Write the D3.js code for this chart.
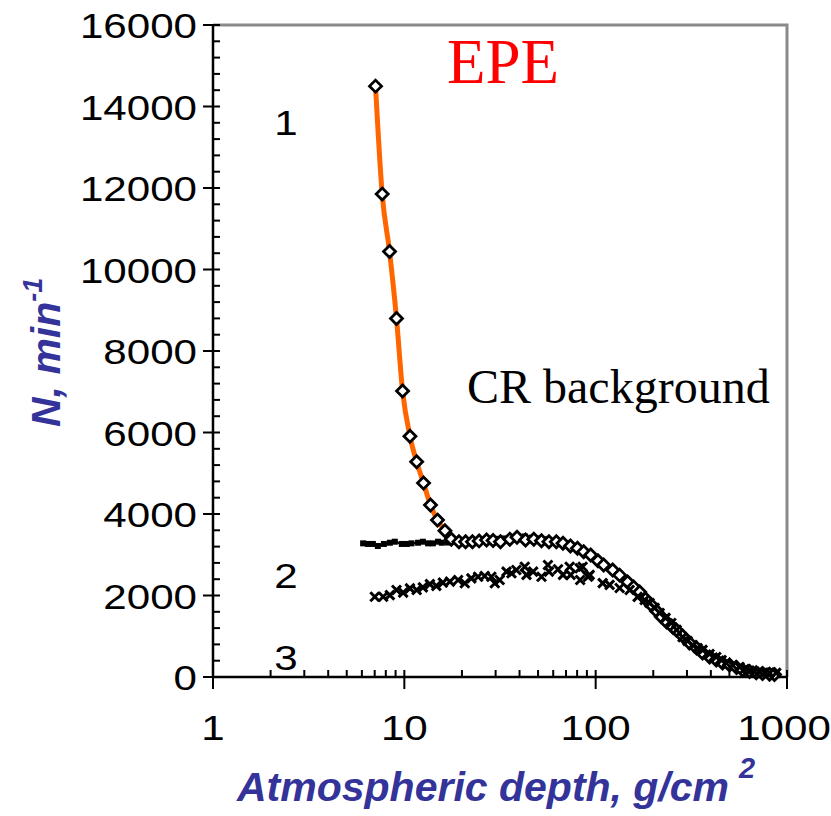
<!DOCTYPE html>
<html>
<head>
<meta charset="utf-8">
<script src="https://cdn.jsdelivr.net/npm/d3@7"></script>
<style>
  html, body { margin: 0; padding: 0; background: #fff; }
  svg { display: block; }
</style>
</head>
<body>
<div id="chart-container"></div>
<script>
// Data
// curve 1: EPE, open diamonds on orange line
const epeDepth = [7.07, 7.66, 8.37, 9.10, 9.79, 10.7, 11.6, 12.6, 13.7, 14.9, 16.3, 17.6,
  19.3, 20.9, 22.7, 24.6, 26.9, 29.1, 31.8, 35.6, 38.8, 43.0, 47.5, 52.1, 57.0, 62.3,
  67.5, 73.8, 80.3, 86.6, 94.2, 102.8, 110.1, 122.7, 133.4, 146.9, 157.9, 169.8, 182.4,
  195.4, 208.2, 220.3, 234.9, 249.4, 263.9, 284.7, 309.7, 336.9, 362.1, 393.8, 426.9,
  460.5, 500.9, 544.8, 585.7, 637.3, 690.6, 744.9, 810.4, 860];
const epeN = [14500, 11850, 10440, 8800, 7020, 5910, 5280, 4760, 4220, 3850, 3590, 3380,
  3320, 3320, 3320, 3340, 3360, 3350, 3320, 3380, 3430, 3360, 3380, 3345, 3320, 3320,
  3280, 3215, 3160, 3075, 2995, 2855, 2750, 2625, 2500, 2330, 2210, 2085, 1915,
  1765, 1620, 1480, 1350, 1250, 1155, 1005, 835, 710, 590, 490, 415,
  345, 295, 235, 170, 135, 105, 85, 70, 60];

// curve 2: CR background, small squares on black line
const bgDepth = [6.09, 6.45, 6.85, 7.27, 7.82, 8.40, 8.92, 9.70, 10.3, 10.9, 11.8, 12.5,
  13.3, 14.1, 15.0, 15.7, 16.9, 18.3, 20.0, 21.7, 23.6, 25.7, 28.0, 30.4, 33.1, 36.0,
  39.1, 42.6, 46.3, 50.4, 54.8, 59.6, 64.9, 70.6, 76.8, 83.5, 90.8, 98.8, 107.5, 116.9,
  127.2, 138.4, 150.5, 163.7, 178.1, 193.8, 210.8, 229.3, 249.4, 271.3, 295.1, 321.0,
  349.2, 379.8, 413.2, 449.4, 488.9, 531.8, 578.5, 629.5, 684.7, 744.9, 810.4, 881.5];
const bgN = [3280, 3265, 3265, 3215, 3265, 3295, 3320, 3265, 3265, 3280, 3295, 3320,
  3280, 3280, 3320, 3295, 3300, 3330, 3310, 3350, 3340, 3380, 3370, 3390, 3400, 3420,
  3460, 3450, 3420, 3400, 3380, 3340, 3300, 3260, 3200, 3120, 3040, 2930, 2800, 2680,
  2560, 2420, 2270, 2130, 1960, 1780, 1600, 1420, 1260, 1110, 960, 810,
  680, 560, 460, 380, 310, 250, 190, 150, 115, 95, 80, 70];

// curve 3: crosses, no line
const crDepth = [7.01, 7.75, 8.40, 9.10, 9.86, 10.7, 11.6, 12.5, 13.6, 14.7, 15.9, 17.3,
  19.1, 20.7, 22.4, 24.3, 26.3, 28.5, 29.7, 31.5, 34.2, 36.3, 38.5, 42.6, 43.5, 47.1,
  52.1, 56.3, 57.0, 63.6, 67.5, 73.1, 74.0, 82.5, 83.0, 85.5, 91.2, 93.1, 108.8, 118.3,
  133.4, 150.5, 165.7, 180.3, 191.4, 203.3, 215.9, 232.0, 248.5, 264.9, 284.7, 302.3,
  321.0, 340.9, 362.1, 393.8, 426.9, 455.0, 481.4, 519.4, 564.9, 600.0, 637.3, 676.7,
  718.6, 763.1, 810.4, 878.2];
const crN = [1970, 1970, 2010, 2135, 2070, 2175, 2135, 2200, 2280, 2235, 2315, 2340,
  2380, 2300, 2420, 2460, 2480, 2460, 2300, 2380, 2585, 2545, 2625, 2705, 2505, 2585,
  2460, 2750, 2585, 2645, 2505, 2705, 2505, 2670, 2380, 2705, 2460, 2505, 2305, 2260,
  2185, 2135, 1965, 1890, 1815, 1695, 1570, 1450, 1325, 1155, 980, 885,
  785, 710, 665, 565, 490, 415, 345, 295, 245, 195, 155, 135,
  130, 110, 100, 100];

const xTicks = [1, 10, 100, 1000];
const yTicks = [0, 2000, 4000, 6000, 8000, 10000, 12000, 14000, 16000];

document.addEventListener("DOMContentLoaded", function () {
  var W = 831, H = 816;
  var left = 213, right = 787, top = 25, bottom = 677;
  var navy = "#333399";
  var sx = 1.17; // tick labels look horizontally stretched

  var svg = d3.select("#chart-container").append("svg")
    .attr("width", W).attr("height", H);

  var x = d3.scaleLog().domain([1, 1000]).range([left, right]);
  var y = d3.scaleLinear().domain([0, 16000]).range([bottom, top]);

  // frame (top and right, grey)
  svg.append("path")
    .attr("d", `M${left},${top}H${right}V${bottom}`)
    .attr("fill", "none").attr("stroke", "#8a8a8a").attr("stroke-width", 3);

  // y axis, minor ticks inside
  var g = svg.append("g");
  d3.range(0, 16001, 400).forEach(function (v) {
    g.append("line").attr("x1", left).attr("x2", left + 7)
      .attr("y1", y(v)).attr("y2", y(v)).attr("stroke", "#000").attr("stroke-width", 2);
  });
  yTicks.forEach(function (v) {
    g.append("line").attr("x1", left - 10).attr("x2", left)
      .attr("y1", y(v)).attr("y2", y(v)).attr("stroke", "#000").attr("stroke-width", 2);
    g.append("text")
      .attr("transform", `translate(${left - 16},${y(v) + 13}) scale(${sx},1)`)
      .attr("text-anchor", "end")
      .style("font-family", "'Liberation Sans', Arial, sans-serif")
      .style("font-size", "36px")
      .text(v);
  });
  g.append("line").attr("x1", left).attr("x2", left)
    .attr("y1", top - 1).attr("y2", bottom + 1).attr("stroke", "#000").attr("stroke-width", 2.5);

  // x axis
  var minors = [];
  [1, 10, 100].forEach(function (d) {
    for (var k = 2; k <= 9; k++) minors.push(d * k);
  });
  minors.forEach(function (v) {
    g.append("line").attr("x1", x(v)).attr("x2", x(v))
      .attr("y1", bottom).attr("y2", bottom - 7).attr("stroke", "#000").attr("stroke-width", 2);
  });
  xTicks.forEach(function (v) {
    g.append("line").attr("x1", x(v)).attr("x2", x(v))
      .attr("y1", bottom - 7).attr("y2", bottom + 12).attr("stroke", "#000").attr("stroke-width", 2);
    g.append("text")
      .attr("transform", `translate(${v === 1000 ? x(v) - 3 : x(v)},${bottom + 63}) scale(${sx},1)`)
      .attr("text-anchor", "middle")
      .style("font-family", "'Liberation Sans', Arial, sans-serif")
      .style("font-size", "36px")
      .text(v);
  });
  g.append("line").attr("x1", left - 1).attr("x2", right)
    .attr("y1", bottom).attr("y2", bottom).attr("stroke", "#000").attr("stroke-width", 2.5);

  // series 2: background line + squares
  var bg = bgDepth.map((d, i) => ({ d: d, n: bgN[i] }));
  var line = d3.line().x((p) => x(p.d)).y((p) => y(p.n));
  svg.append("path").datum(bg).attr("d", line)
    .attr("fill", "none").attr("stroke", "#000").attr("stroke-width", 2.2);
  svg.selectAll(".sq").data(bg).enter().append("rect")
    .attr("x", (p) => x(p.d) - 3).attr("y", (p) => y(p.n) - 3)
    .attr("width", 6).attr("height", 6).attr("fill", "#000");

  // series 1: EPE
  var epe = epeDepth.map((d, i) => ({ d: d, n: epeN[i] }));
  svg.append("path").datum(epe).attr("d", line.curve(d3.curveMonotoneX))
    .attr("fill", "none").attr("stroke", "#ff6600").attr("stroke-width", 5);
  svg.selectAll(".dia").data(epe).enter().append("path")
    .attr("d", "M0,-6L6,0L0,6L-6,0Z")
    .attr("transform", (p) => `translate(${x(p.d)},${y(p.n)})`)
    .attr("fill", "#fff").attr("stroke", "#000").attr("stroke-width", 2.8);

  // series 3: crosses
  var cr = crDepth.map((d, i) => ({ d: d, n: crN[i] }));
  svg.selectAll(".cr").data(cr).enter().append("path")
    .attr("d", "M-4.5,-4.5L4.5,4.5M-4.5,4.5L4.5,-4.5")
    .attr("transform", (p) => `translate(${x(p.d)},${y(p.n)})`)
    .attr("stroke", "#000").attr("stroke-width", 3);

  // annotations
  svg.append("text").attr("x", 447).attr("y", 83)
    .style("font-family", "'Liberation Serif', 'Times New Roman', serif")
    .style("font-size", "63px").attr("fill", "#ff0000").text("EPE");
  svg.append("text").attr("x", 467).attr("y", 403)
    .style("font-family", "'Liberation Serif', 'Times New Roman', serif")
    .style("font-size", "48px").attr("fill", "#000").text("CR background");
  [["1", 135], ["2", 588], ["3", 670]].forEach(function (t) {
    svg.append("text")
      .attr("transform", `translate(286,${t[1]}) scale(${sx},1)`)
      .attr("text-anchor", "middle")
      .style("font-family", "'Liberation Sans', Arial, sans-serif")
      .style("font-size", "36px").text(t[0]);
  });

  // axis titles
  var xt = svg.append("text").attr("x", 237).attr("y", 801)
    .style("font-family", "'Liberation Sans', Arial, sans-serif")
    .style("font-size", "41px").style("font-weight", "bold").style("font-style", "italic")
    .attr("fill", navy);
  xt.append("tspan").text("Atmospheric depth, g/cm");
  xt.append("tspan").attr("dx", 10).attr("dy", -23).style("font-size", "29px").text("2");

  var yt = svg.append("text")
    .attr("transform", "translate(60,427) rotate(-90)")
    .style("font-family", "'Liberation Sans', Arial, sans-serif")
    .style("font-size", "41px").style("font-weight", "bold").style("font-style", "italic")
    .attr("fill", navy);
  yt.append("tspan").text("N, min");
  yt.append("tspan").attr("dy", -18).style("font-size", "27px").text("-1");
});
</script>
</body>
</html>
